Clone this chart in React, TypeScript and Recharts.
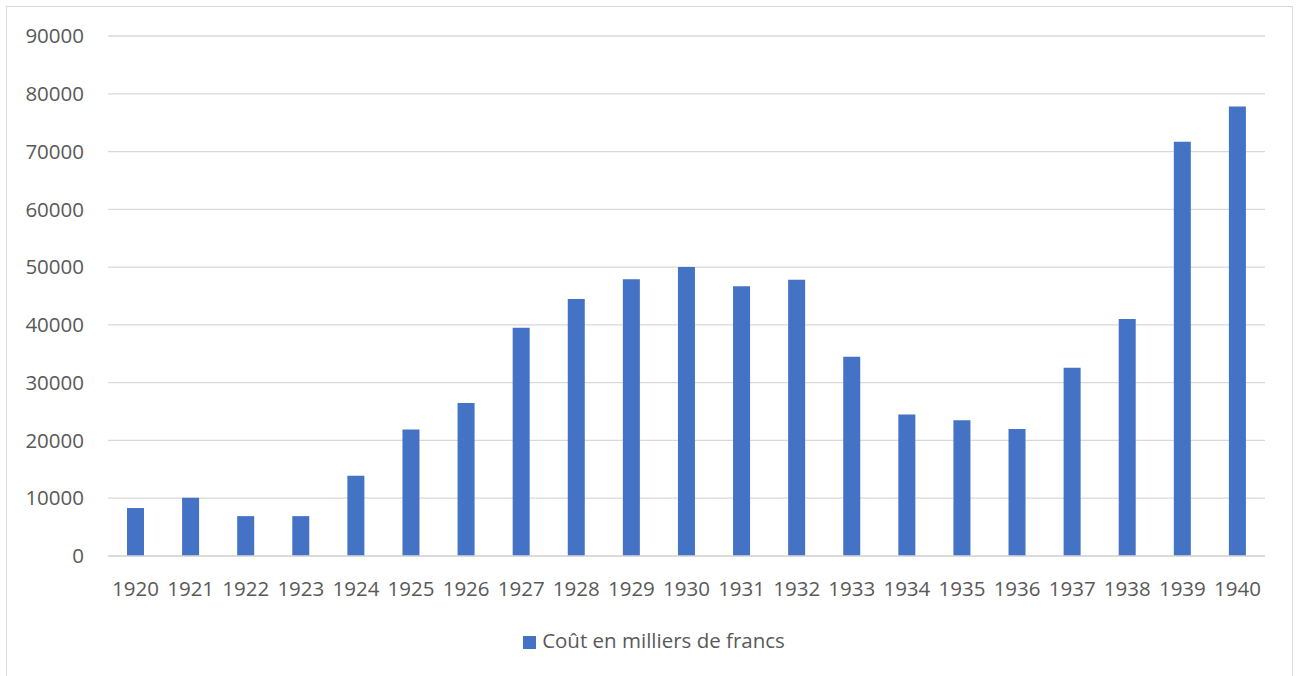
import { Bar, BarChart, CartesianGrid, Legend, XAxis, YAxis } from "recharts";

const years = [
  "1920", "1921", "1922", "1923", "1924", "1925", "1926", "1927", "1928", "1929", "1930",
  "1931", "1932", "1933", "1934", "1935", "1936", "1937", "1938", "1939", "1940",
];
const cout = [
  8300, 10100, 6900, 6900, 13900, 21900, 26500, 39500, 44500, 47900, 50000,
  46700, 47800, 34500, 24500, 23500, 22000, 32600, 41000, 71700, 77800,
];
const yTicks = [0, 10000, 20000, 30000, 40000, 50000, 60000, 70000, 80000, 90000];

const data = years.map((year, i) => ({ year, cout: cout[i] }));

const FONT = "'Open Sans', 'Noto Sans', sans-serif";
const TEXT = "#595959";

export default function App() {
  return (
    <div
      style={{
        position: "absolute",
        left: 0,
        top: 0,
        width: 1298,
        height: 676,
        background: "#fff",
        fontFamily: FONT,
      }}
    >
      <div
        style={{
          position: "absolute",
          left: 6,
          top: 6,
          width: 1287,
          height: 680,
          border: "1px solid #d9d9d9",
          boxSizing: "border-box",
        }}
      />
      <div style={{ position: "absolute", left: 0, top: 0 }}>
        <BarChart
          width={1298}
          height={676}
          data={data}
          margin={{ top: 36, right: 33, left: 0, bottom: 0 }}
          barSize={17}
        >
          <CartesianGrid vertical={false} stroke="#d9d9d9" strokeWidth={1.3} />
          <XAxis
            dataKey="year"
            height={50}
            tickLine={false}
            axisLine={{ stroke: "#d9d9d9", strokeWidth: 1.3 }}
            tickMargin={19}
            interval={0}
            tick={{ fill: TEXT, fontSize: 20.5, fontFamily: FONT }}
          />
          <YAxis
            width={108}
            domain={[0, 90000]}
            ticks={yTicks}
            tickLine={false}
            axisLine={false}
            tickMargin={18}
            tick={{ fill: TEXT, fontSize: 20.5, fontFamily: FONT }}
          />
          <Legend
            verticalAlign="bottom"
            height={50}
            iconType="square"
            iconSize={13}
            wrapperStyle={{
              paddingTop: 20,
              left: 10,
              width: 1298,
              fontFamily: FONT,
              fontSize: 20.5,
            }}
            formatter={(value) => (
              <span style={{ color: TEXT, marginLeft: 2 }}>{value}</span>
            )}
          />
          <Bar
            dataKey="cout"
            name="Coût en milliers de francs"
            fill="#4472C4"
            isAnimationActive={false}
          />
        </BarChart>
      </div>
    </div>
  );
}
